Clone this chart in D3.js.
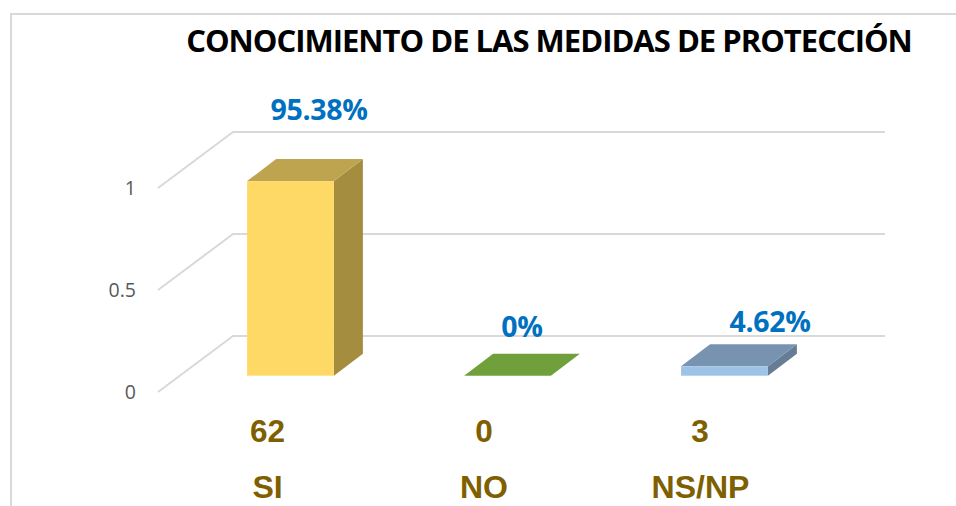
<!DOCTYPE html>
<html><head><meta charset="utf-8">
<script src="https://cdn.jsdelivr.net/npm/d3@7"></script>
<style>html,body{margin:0;padding:0;background:#fff}svg{display:block}</style>
</head><body><svg id="c" width="956" height="506"></svg>
<script>
const categories = ["SI", "NO", "NS/NP"];
const counts = [62, 0, 3];
const shares = [0.9538, 0, 0.0462];
const shareLabels = ["95.38%", "0%", "4.62%"];
const ticks = [0, 0.5, 1];
const tickLabels = ["0", "0.5", "1"];
const title = "CONOCIMIENTO DE LAS MEDIDAS DE PROTECCIÓN";
const topColors = ["#bfa44f", "#70a03c", "#7893b0"];
const frontColors = ["#ffd966", "#70ad47", "#9dc3e6"];
const sideColors = ["#a58d40", "#70ad47", "#667d96"];

const svg = d3.select("#c");
const y = d3.scaleLinear().domain([0, 1]).range([392, 188]);
const x = d3.scaleBand().domain(categories).range([182, 833]).paddingInner(0.6).paddingOuter(0.3);
const wall = {dx: 75, dy: -56}, depth = {dx: 29, dy: -22}, floorLift = 16.3;
const gridRight = 885;

svg.append("path").attr("d", "M11,506V14H956").attr("fill", "none").attr("stroke", "#d9d9d9").attr("stroke-width", 2);

const grid = svg.append("g").attr("fill", "none").attr("stroke", "#d9d9d9").attr("stroke-width", 2);
grid.selectAll("path").data(ticks).join("path")
  .attr("d", t => `M158,${y(t)}L${158 + wall.dx},${y(t) + wall.dy}H${gridRight}`);

svg.append("g").selectAll("text").data(ticks).join("text")
  .attr("x", 136).attr("y", t => y(t) + 6.5).attr("text-anchor", "end")
  .attr("font-family", "'Open Sans'").attr("font-size", 19.5).attr("fill", "#595959")
  .text((t, i) => tickLabels[i]);

const base = y(0) - floorLift;
const pts = a => a.map(p => p.join(",")).join(" ");
const bars = svg.append("g").selectAll("g").data(categories).join("g");
bars.each(function (c, i) {
  const g = d3.select(this), x0 = x(c), x1 = x0 + x.bandwidth();
  const top = base - (y(0) - y(shares[i]));
  const d = depth;
  g.append("polygon").attr("fill", sideColors[i])
    .attr("points", pts([[x1, base], [x1 + d.dx, base + d.dy], [x1 + d.dx, top + d.dy], [x1, top]]));
  g.append("polygon").attr("fill", topColors[i])
    .attr("points", pts([[x0, top], [x0 + d.dx, top + d.dy], [x1 + d.dx, top + d.dy], [x1, top]]));
  if (shares[i] > 0) g.append("rect").attr("x", x0).attr("y", top).attr("width", x1 - x0).attr("height", base - top).attr("fill", frontColors[i]);
});

const lx = [319, 522, 770], ly = [120, 337, 332];
svg.append("g").selectAll("text").data(shareLabels).join("text")
  .attr("x", (d, i) => lx[i]).attr("y", (d, i) => ly[i]).attr("text-anchor", "middle")
  .attr("font-family", "'Open Sans'").attr("font-weight", 700).attr("font-size", 28.5).attr("letter-spacing", -0.3).attr("fill", "#0070c0")
  .text(d => d);

const cx = [267.5, 484, 700], nameX = [267.5, 484, 700.5];
svg.append("g").selectAll("text").data(counts).join("text")
  .attr("x", (d, i) => cx[i]).attr("y", 441.5).attr("text-anchor", "middle")
  .attr("font-family", "'Liberation Sans'").attr("font-weight", 700).attr("font-size", 31.5).attr("fill", "#7f6000")
  .text(d => d);
svg.append("g").selectAll("text").data(categories).join("text")
  .attr("x", (d, i) => nameX[i]).attr("y", 498).attr("text-anchor", "middle")
  .attr("font-family", "'Liberation Sans'").attr("font-weight", 700).attr("font-size", 32).attr("fill", "#7f6000")
  .text(d => d);

svg.append("text").attr("x", 549).attr("y", 52).attr("text-anchor", "middle")
  .attr("font-family", "'Open Sans'").attr("font-weight", 700).attr("font-size", 31).attr("letter-spacing", -1).attr("fill", "#000")
  .text(title);
</script></body></html>
